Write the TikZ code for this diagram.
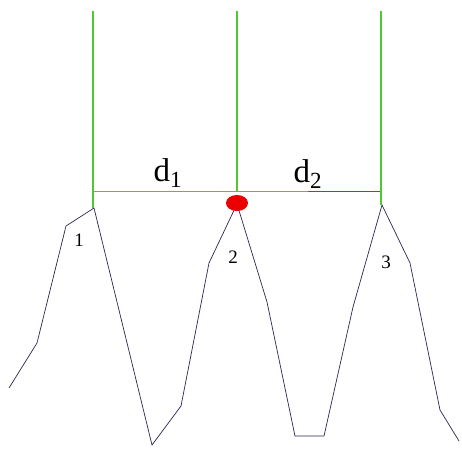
\documentclass[tikz,border=0pt]{standalone}
\usepackage{fontspec}
\setmainfont{Liberation Serif}
\usetikzlibrary{shapes.geometric}
\definecolor{gline}{RGB}{80,200,50}
\definecolor{rline}{RGB}{200,40,40}
\definecolor{rdot}{RGB}{235,0,0}
\definecolor{prof}{RGB}{40,40,80}
\begin{document}
\begin{tikzpicture}[x=1pt,y=-1pt,
  guide/.style={draw=gline,line width=1.6pt},
  dim/.style={draw=rline,line width=1pt},
  profile/.style={draw=prof,line width=0.7pt,line join=miter},
  peaklbl/.style={font=\fontsize{19}{19}\selectfont,inner sep=0pt},
  dlbl/.style={font=\fontsize{33}{33}\selectfont,inner sep=0pt}]
\useasboundingbox[fill=white] (0,0) rectangle (462,451);
% profile points
\coordinate (p0) at (9,388);
\coordinate (p1) at (37,343);
\coordinate (p2) at (66,226);
\coordinate (A) at (94,208);
\coordinate (p4) at (152,445);
\coordinate (p5) at (181,406);
\coordinate (p6) at (209,263);
\coordinate (B) at (237,204);
\coordinate (p8) at (267,302);
\coordinate (p9) at (295,436);
\coordinate (p10) at (324,436);
\coordinate (p11) at (353,307);
\coordinate (C) at (382,205);
\coordinate (p13) at (410,263);
\coordinate (p14) at (440,410);
\coordinate (p15) at (459,441);
% guide ends
\coordinate (At) at (93,11);
\coordinate (Bt) at (237,11);
\coordinate (Ct) at (381,11);
\coordinate (Ab) at (93,191);
\coordinate (Bb) at (237,191);
\coordinate (Cb) at (381,191);
\coordinate (Ae) at (93,208);
\coordinate (Ce) at (381,205);
\draw[profile] (p0) -- (p1) -- (p2) -- (A) -- (p4) -- (p5) -- (p6) -- (B) -- (p8) -- (p9) -- (p10) -- (p11) -- (C) -- (p13) -- (p14) -- (p15);
\draw[dim] (Ab) -- (Bb) -- (Cb);
\draw[guide] (At) -- (Ae);
\draw[guide] (Bt) -- (Bb);
\draw[guide] (Ct) -- (Ce);
\node[ellipse,fill=rdot,minimum width=22pt,minimum height=16pt,inner sep=0pt] (dot) at (237,203) {};
\node[dlbl,anchor=base] (d1) at (168,181) {d\textsubscript{1}};
\node[dlbl,anchor=base] (d2) at (308,182) {d\textsubscript{2}};
\node[peaklbl] (n1) at (79,240) {1};
\node[peaklbl] (n2) at (233,257) {2};
\node[peaklbl] (n3) at (386,262) {3};
\end{tikzpicture}
\end{document}
